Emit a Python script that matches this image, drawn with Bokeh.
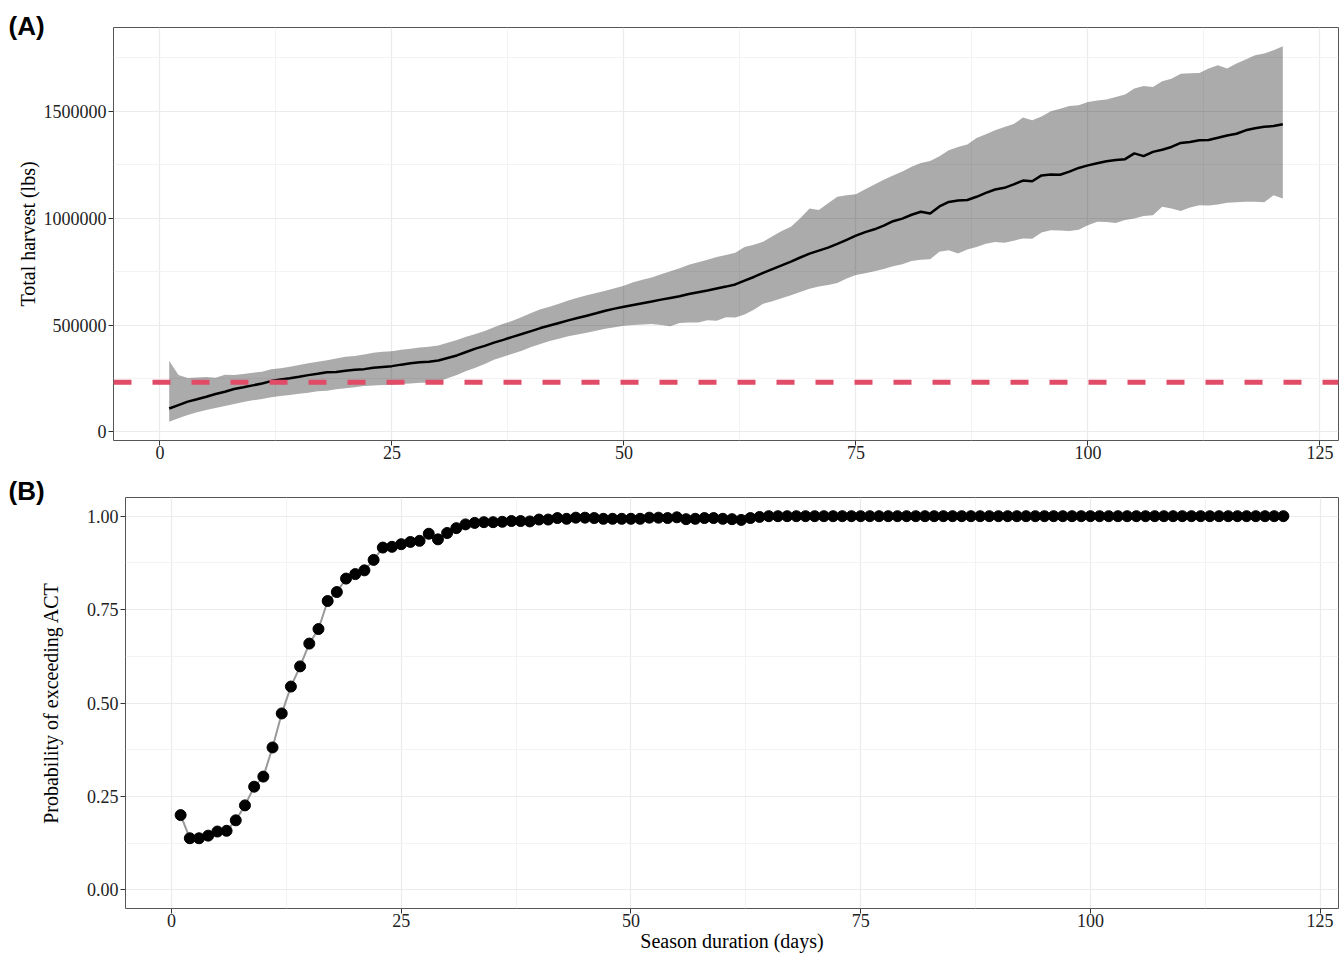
from bokeh.plotting import figure
from bokeh.models import (Range1d, FixedTicker, NumeralTickFormatter, Span, Title,
                          ColumnDataSource)
from bokeh.embed import file_html
from bokeh.resources import INLINE

days = list(range(1, 122))

harvest_mean = [
    110000, 126000, 142000, 153000, 165000, 178000, 188000, 201000, 209000, 218000,
    227000, 238000, 246000, 251000, 258000, 266000, 272000, 279000, 281000, 286000,
    291000, 294000, 300000, 304000, 308000, 315000, 321000, 326000, 329000, 334000,
    346000, 358000, 374000, 390000, 403000, 418000, 431000, 445000, 458000, 472000,
    486000, 498000, 510000, 522000, 533000, 544000, 555000, 567000, 577000, 586000,
    594000, 602000, 610000, 619000, 627000, 635000, 645000, 654000, 662000, 671000,
    680000, 690000, 708000, 725000, 744000, 762000, 779000, 797000, 816000, 834000,
    848000, 862000, 880000, 899000, 918000, 935000, 948000, 965000, 986000, 998000,
    1016000, 1030000, 1022000, 1055000, 1076000, 1083000, 1085000, 1100000, 1118000, 1134000,
    1142000, 1158000, 1176000, 1173000, 1200000, 1204000, 1203000, 1218000, 1235000, 1247000,
    1257000, 1266000, 1272000, 1276000, 1303000, 1290000, 1310000, 1320000, 1333000, 1352000,
    1356000, 1364000, 1366000, 1376000, 1387000, 1395000, 1411000, 1421000, 1428000, 1431000,
    1439000]

harvest_upper = [
    333000, 266000, 252000, 255000, 257000, 254000, 268000, 266000, 271000, 277000,
    282000, 293000, 298000, 305000, 313000, 321000, 329000, 336000, 344000, 352000,
    355000, 363000, 371000, 375000, 378000, 385000, 389000, 395000, 399000, 404000,
    417000, 430000, 445000, 458000, 472000, 490000, 506000, 520000, 538000, 556000,
    574000, 586000, 600000, 615000, 628000, 640000, 650000, 660000, 672000, 684000,
    700000, 712000, 722000, 738000, 752000, 766000, 782000, 794000, 805000, 818000,
    828000, 838000, 865000, 876000, 890000, 915000, 940000, 960000, 1000000, 1045000,
    1038000, 1070000, 1100000, 1107000, 1112000, 1135000, 1158000, 1180000, 1200000, 1218000,
    1240000, 1258000, 1268000, 1290000, 1318000, 1333000, 1345000, 1375000, 1392000, 1411000,
    1427000, 1440000, 1471000, 1458000, 1475000, 1500000, 1512000, 1525000, 1528000, 1543000,
    1550000, 1555000, 1567000, 1579000, 1606000, 1618000, 1614000, 1640000, 1652000, 1676000,
    1678000, 1679000, 1700000, 1715000, 1700000, 1723000, 1742000, 1762000, 1770000, 1785000,
    1804000]

harvest_lower = [
    48000, 64000, 79000, 92000, 103000, 112000, 121000, 131000, 140000, 148000,
    154000, 162000, 168000, 173000, 179000, 184000, 190000, 193000, 200000, 204000,
    209000, 215000, 218000, 220000, 221000, 224000, 227000, 230000, 230000, 236000,
    251000, 266000, 285000, 300000, 318000, 338000, 352000, 366000, 380000, 397000,
    412000, 425000, 436000, 448000, 456000, 464000, 474000, 483000, 490000, 497000,
    500000, 503000, 505000, 500000, 495000, 510000, 512000, 512000, 523000, 520000,
    537000, 536000, 550000, 572000, 600000, 612000, 625000, 640000, 655000, 670000,
    680000, 687000, 697000, 718000, 734000, 742000, 752000, 762000, 775000, 785000,
    800000, 805000, 808000, 843000, 850000, 835000, 854000, 865000, 880000, 889000,
    885000, 895000, 905000, 904000, 933000, 944000, 942000, 940000, 946000, 967000,
    983000, 982000, 978000, 992000, 999000, 1010000, 1014000, 1053000, 1045000, 1034000,
    1050000, 1061000, 1059000, 1064000, 1072000, 1074000, 1077000, 1077000, 1075000, 1107000,
    1092000]

act_threshold = 233000

prob_exceed = [
    0.200, 0.138, 0.138, 0.145, 0.156, 0.158, 0.186, 0.226, 0.276, 0.303,
    0.381, 0.472, 0.544, 0.598, 0.659, 0.698, 0.773, 0.797, 0.833, 0.845,
    0.855, 0.883, 0.916, 0.918, 0.925, 0.931, 0.934, 0.953, 0.938, 0.955,
    0.968, 0.978, 0.982, 0.984, 0.984, 0.985, 0.987, 0.987, 0.986, 0.991,
    0.991, 0.995, 0.993, 0.996, 0.996, 0.995, 0.993, 0.993, 0.993, 0.993,
    0.993, 0.996, 0.996, 0.995, 0.997, 0.992, 0.993, 0.995, 0.995, 0.993,
    0.992, 0.990, 0.995, 0.998, 1.000, 1.000, 1.000, 1.000, 1.000, 1.000,
    1.000, 1.000, 1.000, 1.000, 1.000, 1.000, 1.000, 1.000, 1.000, 1.000,
    1.000, 1.000, 1.000, 1.000, 1.000, 1.000, 1.000, 1.000, 1.000, 1.000,
    1.000, 1.000, 1.000, 1.000, 1.000, 1.000, 1.000, 1.000, 1.000, 1.000,
    1.000, 1.000, 1.000, 1.000, 1.000, 1.000, 1.000, 1.000, 1.000, 1.000,
    1.000, 1.000, 1.000, 1.000, 1.000, 1.000, 1.000, 1.000, 1.000, 1.000,
    1.000]

x_ticks = [0, 25, 50, 75, 100, 125]
x_minor = [12.5, 37.5, 62.5, 87.5, 112.5]
yA_ticks = [0, 500000, 1000000, 1500000]
yA_minor = [250000, 750000, 1250000, 1750000]
yB_ticks = [0, 0.25, 0.5, 0.75, 1.0]
yB_minor = [0.125, 0.375, 0.625, 0.875]

SERIF = "Liberation Serif"
SANS = "Liberation Sans"


def style(p, yticks, yminor, yfmt, ylabel, xlabel, title_standoff, tag, tag_offset,
          tag_standoff):
    p.background_fill_color = "white"
    p.border_fill_color = "white"
    p.outline_line_color = "#555555"
    p.outline_line_width = 1
    p.xaxis.ticker = FixedTicker(ticks=x_ticks, minor_ticks=x_minor)
    p.yaxis.ticker = FixedTicker(ticks=yticks, minor_ticks=yminor)
    p.yaxis.formatter = NumeralTickFormatter(format=yfmt)
    for ax in (p.xaxis[0], p.yaxis[0]):
        ax.axis_line_color = None
        ax.major_tick_line_color = "#333333"
        ax.major_tick_out = 5
        ax.major_tick_in = 0
        ax.minor_tick_line_color = None
        ax.major_label_text_font = SERIF
        ax.major_label_text_font_size = "18px"
        ax.major_label_text_color = "#222222"
        ax.axis_label_text_font = SERIF
        ax.axis_label_text_font_size = "20px"
        ax.axis_label_text_font_style = "normal"
        ax.axis_label_text_color = "black"
    p.xaxis.major_label_standoff = 0
    p.yaxis.major_label_standoff = 2
    p.yaxis.axis_label = ylabel
    p.yaxis.axis_label_standoff = title_standoff
    if xlabel:
        p.xaxis.axis_label = xlabel
        p.xaxis.axis_label_standoff = 0
    for g in (p.xgrid[0], p.ygrid[0]):
        g.grid_line_color = "#EBEBEB"
        g.grid_line_width = 1.2
        g.minor_grid_line_color = "#F3F3F3"
        g.minor_grid_line_width = 1
    p.add_layout(Title(text=tag, align="left", offset=tag_offset, standoff=tag_standoff,
                       vertical_align="bottom", text_font=SANS, text_font_style="bold",
                       text_font_size="26px", text_color="black"), "above")


# Panel A
yA_min = min(harvest_lower)
yA_max = max(harvest_upper)
pad = 0.05 * (yA_max - yA_min)
pA = figure(width=1340, height=467, output_backend="svg", toolbar_location=None,
            x_range=Range1d(-5, 127), y_range=Range1d(yA_min - pad, yA_max + pad),
            min_border_left=113, min_border_right=2, min_border_top=27,
            min_border_bottom=27)
style(pA, yA_ticks, yA_minor, "0", "Total harvest (lbs)", None, 2, "(A)", -105, -26)

srcA = ColumnDataSource(dict(x=days, lo=harvest_lower, hi=harvest_upper, m=harvest_mean))
pA.varea(x="x", y1="lo", y2="hi", source=srcA, fill_color="black", fill_alpha=0.33)
pA.line(x="x", y="m", source=srcA, line_color="black", line_width=2.5)
pA.add_layout(Span(location=act_threshold, dimension="width", line_color="#E04B68",
                   line_width=5, line_dash="18 21"))

# Panel B
pB = figure(width=1340, height=487, output_backend="svg", toolbar_location=None,
            x_range=Range1d(-5, 127), y_range=Range1d(-0.05, 1.05),
            min_border_left=125, min_border_right=2, min_border_top=30,
            min_border_bottom=44)
style(pB, yB_ticks, yB_minor, "0.00", "Probability of exceeding ACT",
      "Season duration (days)", 22, "(B)", -117, -16)

srcB = ColumnDataSource(dict(x=days, y=prob_exceed))
pB.line(x="x", y="y", source=srcB, line_color="#999999", line_width=2)
pB.scatter(x="x", y="y", source=srcB, size=11, fill_color="black", line_color="black")

open("out.html", "w").write(file_html([pA, pB], INLINE))
